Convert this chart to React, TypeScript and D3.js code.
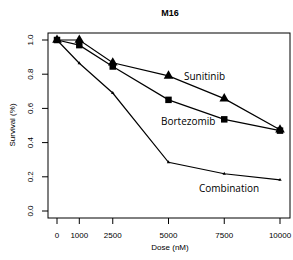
import * as d3 from "d3";

const doses = [0, 1000, 2500, 5000, 7500, 10000];
const sunitinib = [1.0, 1.0, 0.867, 0.79, 0.657, 0.475];
const bortezomib = [1.0, 0.97, 0.845, 0.65, 0.536, 0.47];
const combination = [1.0, 0.864, 0.69, 0.285, 0.218, 0.182];
const xTicks = [0, 1000, 2500, 5000, 7500, 10000];
const yTicks = [0, 0.2, 0.4, 0.6, 0.8, 1.0];

const W = 293;
const H = 260;
const box = { left: 48, right: 290, top: 33, bottom: 218 };

const x = d3.scaleLinear().domain([0, 10000]).range([57, 280]);
const y = d3.scaleLinear().domain([0, 1]).range([211, 40]);

const line = d3
    .line<number>()
    .x((_, i) => x(doses[i]))
    .y(d => y(d));

const series = [
    { name: "Sunitinib", values: sunitinib, symbol: d3.symbolTriangle, size: 40, label: [184, 76] },
    { name: "Bortezomib", values: bortezomib, symbol: d3.symbolSquare, size: 42, label: [161, 121] },
    { name: "Combination", values: combination, symbol: d3.symbolTriangle, size: 5, label: [199, 188] }
];

const tickFont = "'Liberation Sans', Arial, sans-serif";

export default function App() {
    return (
        <svg width={W} height={H} style={{ position: "absolute", left: 0, top: 0, background: "#fff" }}>
            <text x={170} y={16} textAnchor="middle" fontFamily={tickFont} fontWeight="bold" fontSize={9}>
                M16
            </text>
            <rect
                x={box.left}
                y={box.top}
                width={box.right - box.left}
                height={box.bottom - box.top}
                fill="none"
                stroke="#000"
                strokeWidth={1}
            />
            {xTicks.map(t => (
                <g key={t}>
                    <line x1={x(t)} x2={x(t)} y1={box.bottom} y2={box.bottom + 6} stroke="#000" />
                    <text x={x(t)} y={238} textAnchor="middle" fontFamily={tickFont} fontSize={8}>
                        {t}
                    </text>
                </g>
            ))}
            {yTicks.map(t => (
                <g key={t}>
                    <line x1={box.left - 6} x2={box.left} y1={y(t)} y2={y(t)} stroke="#000" />
                    <text
                        transform={`translate(33, ${y(t)}) rotate(-90)`}
                        textAnchor="middle"
                        fontFamily={tickFont}
                        fontSize={8}
                    >
                        {t.toFixed(1)}
                    </text>
                </g>
            ))}
            <text x={170} y={250} textAnchor="middle" fontFamily={tickFont} fontSize={8}>
                Dose (nM)
            </text>
            <text transform="translate(15, 125) rotate(-90)" textAnchor="middle" fontFamily={tickFont} fontSize={8}>
                Survival (%)
            </text>
            {series.map(s => (
                <g key={s.name}>
                    <path d={line(s.values) ?? ""} fill="none" stroke="#000" strokeWidth={1.2} />
                    {s.values.map((v, i) => (
                        <path
                            key={i}
                            transform={`translate(${x(doses[i])}, ${y(v)})`}
                            d={d3.symbol().type(s.symbol).size(s.size)() ?? ""}
                            fill="#000"
                        />
                    ))}
                    <text
                        x={s.label[0]}
                        y={s.label[1] + 4}
                        fontFamily="'Open Sans', sans-serif"
                        fontSize={10}
                    >
                        {s.name}
                    </text>
                </g>
            ))}
        </svg>
    );
}
